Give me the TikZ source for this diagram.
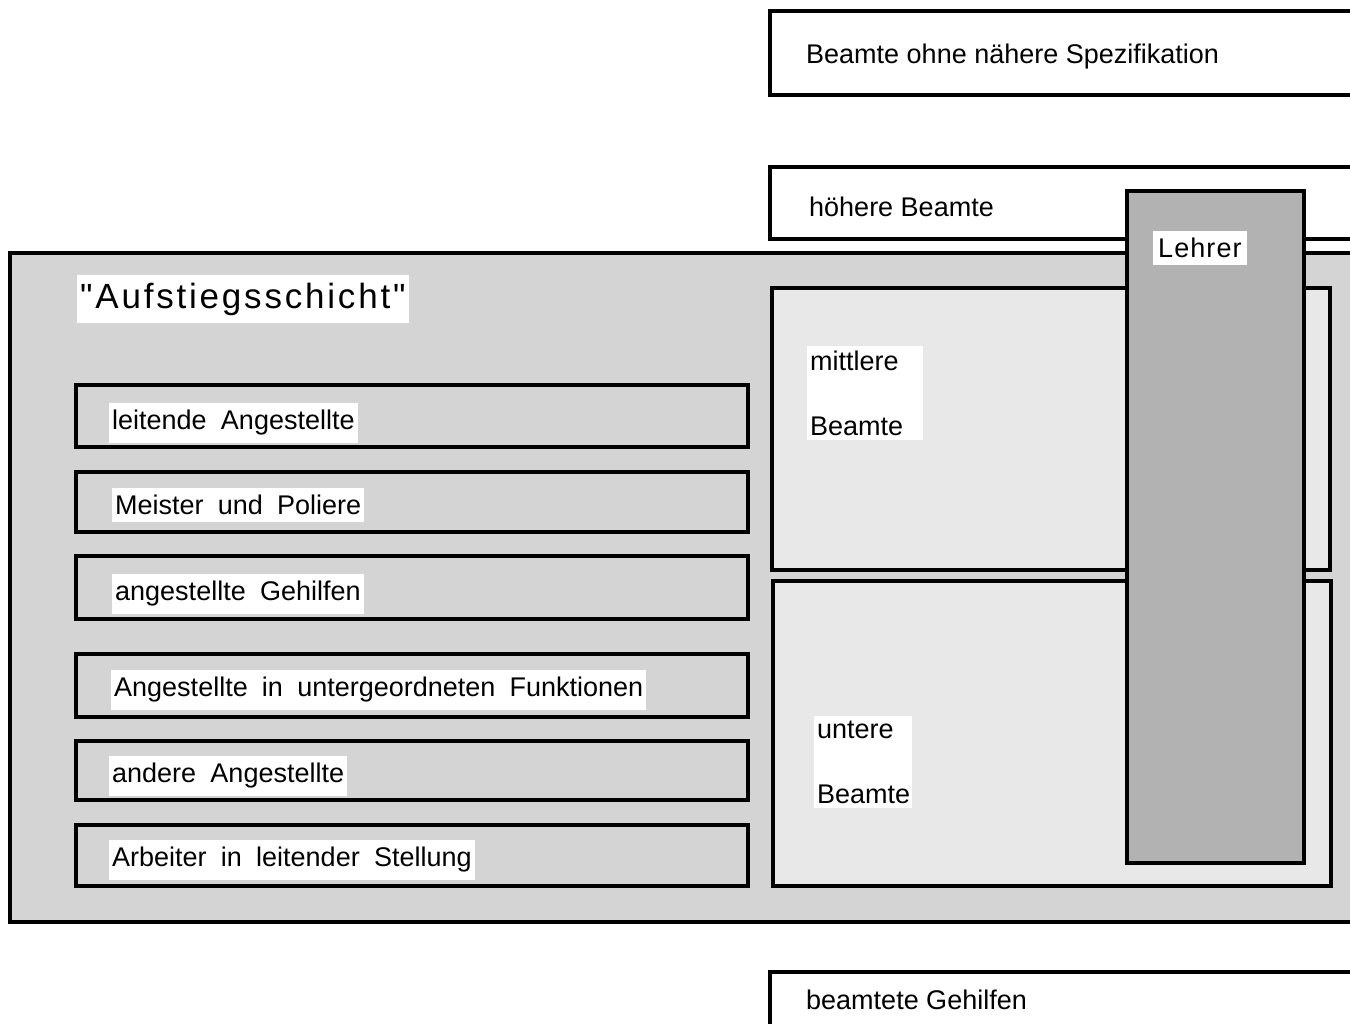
\documentclass[tikz,border=0pt]{standalone}
\usepackage{fontspec}
\setmainfont{Liberation Sans}
\newfontfamily\widefont[WordSpace=1.9]{Liberation Sans}
\newfontfamily\titlefont[LetterSpace=8]{Liberation Sans}
\newfontfamily\lehrerfont[LetterSpace=4]{Liberation Sans}
\begin{document}
\begin{tikzpicture}[x=1pt,y=-1pt,
  frame/.style={line width=3.2pt, draw=black, line join=miter},
  outerfill/.style={fill=black!17},
  innerfill/.style={fill=black!9},
  lehrerfill/.style={fill=black!30},
  lbl/.style={anchor=west, fill=white, inner xsep=3pt, inner ysep=7pt,
    font=\fontsize{27}{30}\selectfont},
  wlbl/.style={lbl, font=\widefont\fontsize{27}{30}\selectfont},
]
\useasboundingbox (0,0) rectangle (1350,1024);
\clip (0,0) rectangle (1350,1024);

% top boxes (open to the right)
\draw[frame] (1360,11) -- (770,11) -- (770,95) -- (1360,95);
\draw[frame] (1360,167) -- (770,167) -- (770,239) -- (1360,239);

% outer "Aufstiegsschicht" area
\fill[outerfill] (10,253) rectangle (1360,922);
\draw[frame] (1360,253) -- (10,253) -- (10,922) -- (1360,922);

% left boxes
\draw[frame, outerfill] (76,385) rectangle (748,447);
\draw[frame, outerfill] (76,472) rectangle (748,532);
\draw[frame, outerfill] (76,556) rectangle (748,619);
\draw[frame, outerfill] (76,654) rectangle (748,717);
\draw[frame, outerfill] (76,741) rectangle (748,800);
\draw[frame, outerfill] (76,825) rectangle (748,886);

% Beamte boxes
\draw[frame, innerfill] (772,288) rectangle (1330,570);
\draw[frame, innerfill] (773,581) rectangle (1331,886);

% Lehrer
\draw[frame, lehrerfill] (1127,191) rectangle (1304,863);

% bottom box
\draw[frame] (1360,972) -- (770,972) -- (770,1040);

% texts
\node[lbl, fill=none] (bons) at (803,57) {Beamte ohne nähere Spezifikation};
\node[lbl, fill=none] (hb) at (806,207) {höhere Beamte};
\node[lbl, inner ysep=8pt, font=\titlefont\fontsize{35}{38}\selectfont] (auf) at (77,299) {"Aufstiegsschicht"};
\node[wlbl] (la) at (109,423) {leitende Angestellte};
\node[wlbl] (mp) at (112,505) {Meister und Poliere};
\node[wlbl] (ag) at (112,594) {angestellte Gehilfen};
\node[wlbl] (auf2) at (111,690) {Angestellte in untergeordneten Funktionen};
\node[wlbl] (aa) at (109,776) {andere Angestellte};
\node[wlbl] (ails) at (109,860) {Arbeiter in leitender Stellung};
\node[lbl, align=left, text width=110pt, inner ysep=5pt, font=\fontsize{27}{65}\selectfont] (mb) at (807,393) {mittlere\\Beamte};
\node[lbl, align=left, text width=92pt, inner ysep=5pt, font=\fontsize{27}{65}\selectfont] (ub) at (814,762) {untere\\Beamte};
\node[lbl, inner xsep=5pt, font=\lehrerfont\fontsize{27}{30}\selectfont] (le) at (1153,248) {Lehrer};
\node[lbl, fill=none] (bg) at (803,1000) {beamtete Gehilfen};
\end{tikzpicture}
\end{document}
